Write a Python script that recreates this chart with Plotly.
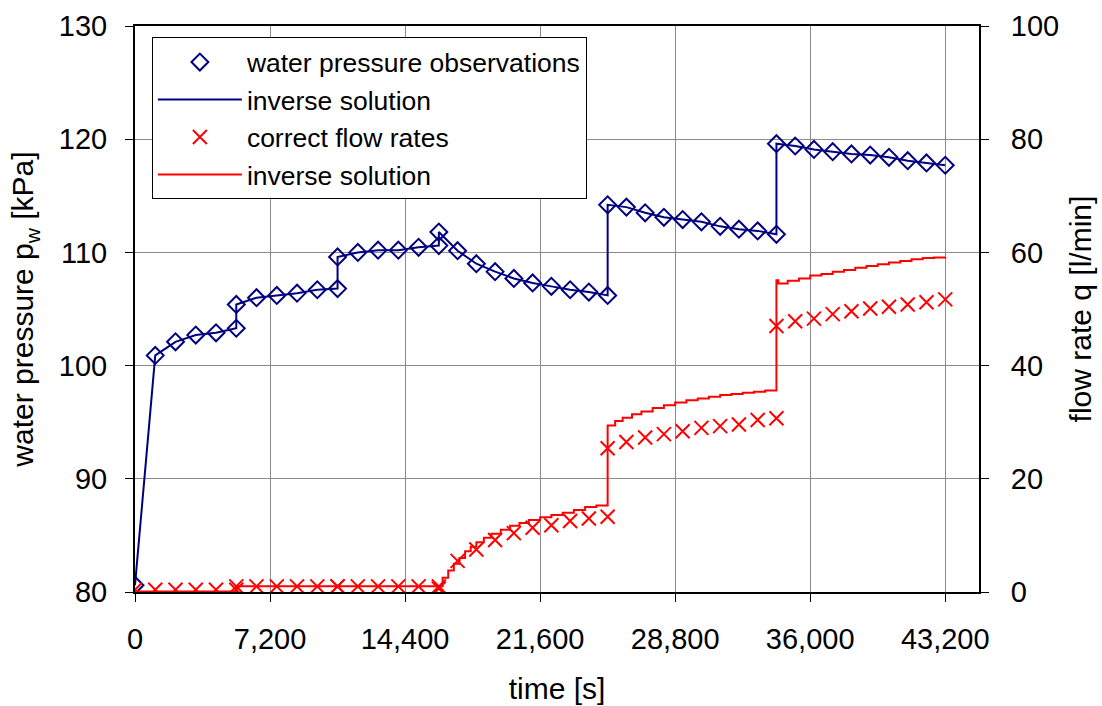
import plotly.graph_objects as go

# observation times [s] (duplicated at load steps)
obs_time = [0, 1080, 2160, 3240, 4320, 5400, 5400, 6480, 7560, 8640, 9720,
            10800, 10800, 11880, 12960, 14040, 15120, 16200, 16200,
            17200, 18200, 19200, 20200, 21200, 22200, 23200, 24200, 25200, 25200,
            26200, 27200, 28200, 29200, 30200, 31200, 32200, 33200, 34200, 34200,
            35200, 36200, 37200, 38200, 39200, 40200, 41200, 42200, 43200]

# water pressure observations [kPa]
pressure_obs = [80.6, 100.9, 102.1, 102.7, 102.9, 103.3, 105.4, 106.0, 106.2, 106.4, 106.7,
                106.8, 109.6, 110.0, 110.2, 110.2, 110.45, 110.6, 111.8,
                110.15, 109.0, 108.3, 107.7, 107.3, 107.0, 106.7, 106.5, 106.2, 114.2,
                114.0, 113.5, 113.1, 112.9, 112.7, 112.3, 112.05, 111.9, 111.6, 119.6,
                119.4, 119.1, 118.9, 118.7, 118.6, 118.4, 118.1, 117.9, 117.7]

# inverse solution for pressure (passes through observations)
pressure_inv_time = obs_time
pressure_inv = pressure_obs

# correct flow rates [l/min]
flow_correct = [0.4, 0.4, 0.4, 0.4, 0.4, 0.4, 1.0, 1.0, 1.0, 1.0, 1.0,
                1.0, 1.0, 1.0, 1.0, 1.0, 1.0, 1.0, 0.6,
                5.5, 7.5, 9.2, 10.4, 11.35, 11.8, 12.55, 13.0, 13.3, 25.4,
                26.5, 27.3, 27.9, 28.4, 29.0, 29.3, 29.6, 30.4, 30.7, 47.0,
                47.85, 48.3, 49.1, 49.6, 50.1, 50.4, 50.8, 51.2, 51.7]

# inverse solution for flow rate (stepwise)
flow_inv_time = [0, 5400, 16200, 16400, 16700, 17000, 17300, 17600, 17900, 18200, 18600,
                 19000, 19500, 20000, 20500, 21000, 21600, 22200, 22800, 23400, 24000,
                 24600, 25200, 25600, 26000, 26500, 27000, 27600, 28200, 28800, 29400,
                 30000, 30600, 31200, 31800, 32400, 33000, 33600, 34200, 34300, 34800,
                 35400, 36000, 36600, 37200, 37800, 38400, 39000, 39600, 40200, 40800,
                 41400, 42000, 42600, 43200]
flow_inv = [0.1, 1.0, 1.0, 2.5, 3.8, 5.0, 6.0, 7.2, 8.0, 8.8, 9.6,
            10.3, 11.0, 11.7, 12.2, 12.7, 13.2, 13.6, 14.0, 14.5, 15.0,
            15.3, 29.4, 30.2, 30.8, 31.4, 31.9, 32.5, 33.0, 33.5, 33.9,
            34.2, 34.5, 34.8, 35.0, 35.2, 35.4, 35.6, 55.1, 54.5, 55.0,
            55.4, 55.9, 56.2, 56.6, 56.9, 57.3, 57.6, 57.9, 58.2, 58.5,
            58.8, 59.0, 59.1, 59.2]

x_ticks = [0, 7200, 14400, 21600, 28800, 36000, 43200]

NAVY = "#000080"
RED = "#FF0000"
FONT = "Liberation Sans, Arial, sans-serif"

fig = go.Figure()
fig.add_trace(go.Scatter(x=pressure_inv_time, y=pressure_inv, mode="lines",
                         line=dict(color=NAVY, width=2), name="inverse solution",
                         legendrank=2))
fig.add_trace(go.Scatter(x=obs_time, y=pressure_obs, mode="markers",
                         marker=dict(symbol="diamond-open", size=13, color=NAVY,
                                     line=dict(color=NAVY, width=2)),
                         name="water pressure observations", legendrank=1))
fig.add_trace(go.Scatter(x=flow_inv_time, y=flow_inv, mode="lines", yaxis="y2",
                         line=dict(color=RED, width=2, shape="hv"),
                         name="inverse solution", legendrank=4))
fig.add_trace(go.Scatter(x=obs_time, y=flow_correct, mode="markers", yaxis="y2",
                         marker=dict(symbol="x-thin-open", size=14, color=RED,
                                     line=dict(color=RED, width=2)),
                         name="correct flow rates", legendrank=3))

axis_common = dict(showline=True, linecolor="black", linewidth=2,
                   ticks="outside", ticklen=8, tickwidth=1, tickcolor="black",
                   tickfont=dict(size=29, color="black", family=FONT),
                   zeroline=False, automargin=False)

fig.update_layout(
    width=1102, height=706,
    margin=dict(l=135, r=123, t=26, b=114),
    paper_bgcolor="white", plot_bgcolor="white",
    font=dict(family=FONT, color="black"),
    xaxis=dict(range=[0, 45000], tickvals=x_ticks, tickformat=",",
               showgrid=True, gridcolor="#8c8c8c", gridwidth=1, mirror=True,
               ticklabelstandoff=12,
               title=dict(text="time [s]", font=dict(size=30), standoff=24),
               **axis_common),
    yaxis=dict(range=[80, 130], dtick=10, showgrid=True, gridcolor="#8c8c8c",
               gridwidth=1, ticklabelstandoff=12,
               title=dict(text="water pressure p<sub>w</sub> [kPa]", font=dict(size=30), standoff=16),
               **axis_common),
    yaxis2=dict(range=[0, 100], dtick=20, overlaying="y", side="right", showgrid=False,
                ticklabelstandoff=16,
                title=dict(text="flow rate q [l/min]", font=dict(size=30), standoff=12),
                **axis_common),
    legend=dict(x=0.02, y=0.98, xanchor="left", yanchor="top",
                bgcolor="white", bordercolor="black", borderwidth=1,
                font=dict(size=26.5, family=FONT, color="black"),
                itemwidth=84, tracegroupgap=0),
    showlegend=True,
)

fig.write_html("out.html")
